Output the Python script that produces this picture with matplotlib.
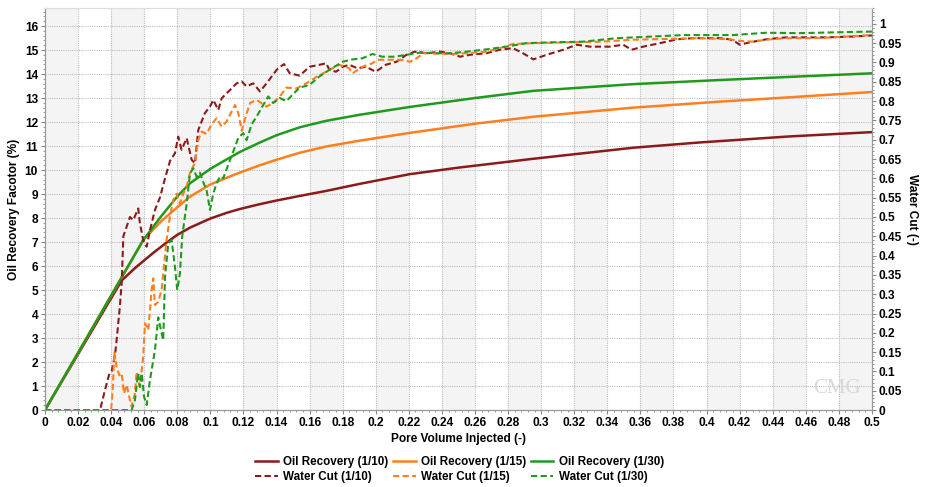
import matplotlib
matplotlib.use("Agg")
import matplotlib.pyplot as plt
from matplotlib.ticker import MultipleLocator, AutoMinorLocator, FuncFormatter

plt.rcParams['font.family'] = ['Liberation Sans', 'DejaVu Sans']
plt.rcParams['font.weight'] = 'bold'

# --- data ---
or10_x = [0, 0.0464, 0.055, 0.0655, 0.073, 0.08, 0.0877, 0.1, 0.11, 0.118, 0.13, 0.14, 0.154,
          0.17, 0.19, 0.2207, 0.25, 0.2953, 0.3557, 0.396, 0.45, 0.5]
or10_y = [0, 5.4, 5.95, 6.55, 6.95, 7.3, 7.6, 7.98, 8.22, 8.38, 8.58, 8.73, 8.92,
          9.13, 9.42, 9.83, 10.1, 10.47, 10.93, 11.15, 11.4, 11.58]

or15_x = [0, 0.0594, 0.07, 0.08, 0.0877, 0.1, 0.11, 0.118, 0.13, 0.14, 0.154, 0.17, 0.19,
          0.2207, 0.26, 0.2953, 0.3557, 0.408, 0.45, 0.5]
or15_y = [0, 7.08, 7.85, 8.45, 8.89, 9.4, 9.68, 9.9, 10.2, 10.43, 10.72, 10.98, 11.22,
          11.55, 11.93, 12.22, 12.6, 12.85, 13.03, 13.25]

or30_x = [0, 0.0594, 0.07, 0.08, 0.0877, 0.1, 0.11, 0.118, 0.13, 0.14, 0.154, 0.17, 0.19,
          0.2207, 0.26, 0.2953, 0.3557, 0.408, 0.45, 0.5]
or30_y = [0, 7.08, 8.05, 8.9, 9.45, 10.05, 10.45, 10.76, 11.15, 11.45, 11.78, 12.05, 12.3,
          12.63, 13.0, 13.3, 13.58, 13.75, 13.88, 14.03]

wc10_x = [0, 0.0333, 0.0363, 0.039, 0.0403, 0.0423, 0.0433, 0.0453, 0.0464, 0.0474, 0.0494,
          0.0514, 0.0534, 0.0564, 0.0574, 0.0594, 0.0615, 0.0635, 0.0665, 0.0695, 0.0726,
          0.0756, 0.0786, 0.0806, 0.0826, 0.0857, 0.0887, 0.0907, 0.0927, 0.0967, 0.0998,
          0.1018, 0.1048, 0.1068, 0.1098, 0.1129, 0.1159, 0.1189, 0.1219, 0.1259, 0.13,
          0.134, 0.1401, 0.1445, 0.148, 0.154, 0.16, 0.166, 0.17, 0.172, 0.176, 0.18, 0.184,
          0.189, 0.194, 0.2, 0.206, 0.2126, 0.2186, 0.2237, 0.2307, 0.2388, 0.2449, 0.251,
          0.257, 0.267, 0.275, 0.283, 0.289, 0.2953, 0.3034, 0.3134, 0.3215, 0.3295, 0.3416,
          0.3496, 0.3547, 0.3617, 0.3718, 0.3819, 0.392, 0.408, 0.414, 0.418, 0.42, 0.426,
          0.436, 0.448, 0.46, 0.472, 0.487, 0.5]
wc10_y = [0, 0, 0.052, 0.095, 0.1, 0.14, 0.18, 0.268, 0.33, 0.45, 0.475,
          0.5, 0.492, 0.522, 0.484, 0.44, 0.423, 0.466, 0.518, 0.55, 0.6,
          0.645, 0.665, 0.708, 0.674, 0.704, 0.648, 0.639, 0.725, 0.769, 0.786,
          0.803, 0.777, 0.807, 0.82, 0.833, 0.846, 0.851, 0.838, 0.846, 0.825,
          0.846, 0.881, 0.896, 0.872, 0.866, 0.889, 0.894, 0.898, 0.881, 0.876, 0.889, 0.894,
          0.885, 0.889, 0.876, 0.894, 0.902, 0.92, 0.928, 0.924, 0.928, 0.924, 0.915,
          0.92, 0.924, 0.933, 0.937, 0.924, 0.908, 0.92, 0.933, 0.946, 0.941, 0.941,
          0.946, 0.933, 0.941, 0.95, 0.96, 0.963, 0.963, 0.96, 0.952, 0.946, 0.952,
          0.96, 0.965, 0.965, 0.965, 0.967, 0.97]

wc15_x = [0, 0.04, 0.041, 0.0419, 0.0433, 0.045, 0.0464, 0.0478, 0.0494, 0.0514, 0.0524,
          0.0544, 0.0554, 0.0574, 0.0594, 0.0605, 0.0625, 0.0645, 0.0655, 0.0665, 0.0685,
          0.0705, 0.0719, 0.0735, 0.0756, 0.0776, 0.0796, 0.0816, 0.0836, 0.0857, 0.0877,
          0.0907, 0.0927, 0.0947, 0.0977, 0.1008, 0.1038, 0.1068, 0.1098, 0.1149, 0.1169,
          0.119, 0.121, 0.124, 0.128, 0.134, 0.138, 0.142, 0.146, 0.152, 0.158, 0.164,
          0.172, 0.178, 0.184, 0.186, 0.192, 0.198, 0.201, 0.215, 0.221, 0.2247, 0.229,
          0.245, 0.255, 0.267, 0.275, 0.283, 0.295, 0.315, 0.336, 0.356, 0.376, 0.396,
          0.414, 0.42, 0.428, 0.436, 0.448, 0.462, 0.4766, 0.5]
wc15_y = [0, 0, 0.052, 0.151, 0.112, 0.09, 0.095, 0.043, 0.065, 0.026, 0.009,
          0.043, 0.099, 0.06, 0.138, 0.225, 0.207, 0.311, 0.341, 0.272, 0.28,
          0.311, 0.371, 0.44, 0.501, 0.545, 0.56, 0.535, 0.56, 0.58, 0.615,
          0.64, 0.699, 0.721, 0.715, 0.74, 0.756, 0.734, 0.747, 0.79, 0.769,
          0.723, 0.755, 0.795, 0.803, 0.786, 0.795, 0.812, 0.835, 0.833, 0.846, 0.862,
          0.881, 0.894, 0.885, 0.872, 0.889, 0.898, 0.907, 0.907, 0.902, 0.911, 0.924,
          0.922, 0.924, 0.928, 0.937, 0.948, 0.95, 0.952, 0.954, 0.959, 0.961, 0.963,
          0.96, 0.956, 0.954, 0.959, 0.963, 0.963, 0.965, 0.971]

wc30_x = [0, 0.0524, 0.0544, 0.0558, 0.0564, 0.0574, 0.0585, 0.0599, 0.0615, 0.0635,
          0.0665, 0.0685, 0.0705, 0.0715, 0.0726, 0.0746, 0.0766, 0.0786, 0.08, 0.0816,
          0.083, 0.0857, 0.0877, 0.0897, 0.0917, 0.0937, 0.0957, 0.0977, 0.0998, 0.1018,
          0.1038, 0.1058, 0.1078, 0.1108, 0.1139, 0.1169, 0.1199, 0.1219, 0.125, 0.128,
          0.132, 0.135, 0.138, 0.142, 0.146, 0.15, 0.154, 0.16, 0.166, 0.172, 0.18, 0.186,
          0.192, 0.198, 0.204, 0.211, 0.219, 0.227, 0.235, 0.245, 0.255, 0.267, 0.279,
          0.291, 0.305, 0.3255, 0.3456, 0.3658, 0.386, 0.416, 0.436, 0.456, 0.4766, 0.5]
wc30_y = [0, 0, 0.025, 0.078, 0.095, 0.06, 0.095, 0.035, 0.013, 0.078,
          0.155, 0.24, 0.2, 0.181, 0.345, 0.432, 0.44, 0.37, 0.311, 0.354,
          0.45, 0.535, 0.613, 0.626, 0.604, 0.615, 0.59, 0.57, 0.518, 0.561,
          0.587, 0.605, 0.6, 0.635, 0.67, 0.705, 0.717, 0.699, 0.74, 0.76,
          0.79, 0.812, 0.795, 0.808, 0.8, 0.818, 0.835, 0.842, 0.864, 0.881, 0.902, 0.908,
          0.911, 0.922, 0.915, 0.915, 0.92, 0.926, 0.924, 0.924, 0.928, 0.934, 0.941,
          0.95, 0.952, 0.954, 0.963, 0.967, 0.971, 0.971, 0.977, 0.976, 0.978, 0.98]

cases = ['1/10', '1/15', '1/30']
colors = ['#8b1a1a', '#ff7f1e', '#1f9a1f']

fig = plt.figure(figsize=(9.25, 4.87), dpi=100)
ax = fig.add_axes([0.0486, 0.158, 0.894, 0.8255])
ax2 = ax.twinx()

# alternating vertical bands
for i in range(25):
    if i % 2 == 0:
        ax.axvspan(i * 0.02, (i + 1) * 0.02, color='#f4f4f4', lw=0, zorder=0)

ax.grid(True, which='major', color='#bdbdbd', ls=(0, (1, 1)), lw=0.8)
ax.set_axisbelow(True)

h_or = []
for xs, ys, c, lab in zip([or10_x, or15_x, or30_x], [or10_y, or15_y, or30_y], colors, cases):
    h, = ax.plot(xs, ys, color=c, lw=1.8, label=f'Oil Recovery ({lab})', zorder=3)
    h_or.append(h)

h_wc = []
for xs, ys, c, lab in zip([wc10_x, wc15_x, wc30_x], [wc10_y, wc15_y, wc30_y], colors, cases):
    h, = ax2.plot(xs, ys, color=c, lw=1.5, dashes=(3, 1.6), label=f'Water Cut ({lab})')
    h_wc.append(h)

ax.set_xlim(0, 0.5)
ax.set_ylim(0, 16.75)
ax2.set_ylim(0, 1.041)

ax.xaxis.set_major_locator(MultipleLocator(0.02))
ax.xaxis.set_minor_locator(AutoMinorLocator(5))
ax.xaxis.set_major_formatter(FuncFormatter(lambda v, p: f'{round(v, 2):g}'))
ax.yaxis.set_major_locator(MultipleLocator(1))
ax.yaxis.set_minor_locator(AutoMinorLocator(5))
ax2.yaxis.set_major_locator(MultipleLocator(0.05))
ax2.yaxis.set_minor_locator(AutoMinorLocator(5))
ax2.yaxis.set_major_formatter(FuncFormatter(lambda v, p: f'{round(v, 2):g}'))

for a in (ax, ax2):
    a.tick_params(which='major', length=3, width=0.8, color='#888888', labelsize=8.6, pad=2)
    a.tick_params(which='minor', length=1.5, width=0.6, color='#888888')
    for side, sp in a.spines.items():
        sp.set_color('#999999')
        sp.set_linewidth(0.8)
    a.spines['top'].set_color('#dddddd')

ax.set_xlabel('Pore Volume Injected (-)', fontsize=8.6, fontweight='bold', labelpad=3)
ax.set_ylabel('Oil Recovery Facotor (%)', fontsize=8.6, fontweight='bold', labelpad=3)
ax2.set_ylabel('Water Cut (-)', fontsize=8.6, fontweight='bold', rotation=270, labelpad=11)

ax2.text(0.958, 0.03, 'CMG', transform=ax2.transAxes, fontsize=15, color='#d8d8d8',
         family='Liberation Serif', ha='center', va='bottom', fontweight='normal')

handles = []
for a, b in zip(h_or, h_wc):
    handles += [a, b]
fig.legend(handles=handles, labels=[h.get_label() for h in handles], ncol=3,
           loc='center', bbox_to_anchor=(0.497, 0.036), frameon=False,
           prop={'size': 8.4, 'weight': 'bold'}, handlelength=1.9, handletextpad=0.45,
           columnspacing=0.45, labelspacing=0.2, borderpad=0.1)

fig.savefig('out.png', dpi=100)
